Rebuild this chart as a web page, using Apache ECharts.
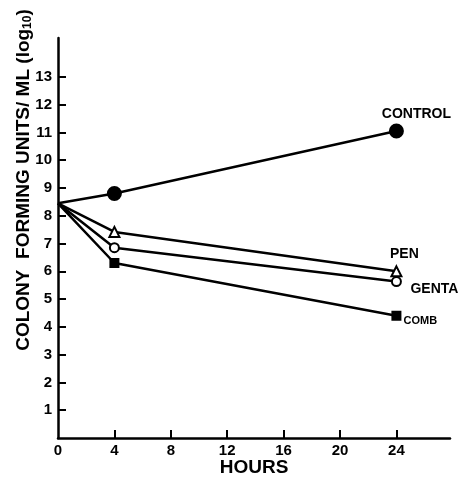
<!DOCTYPE html>
<html>
<head>
<meta charset="utf-8">
<script src="https://cdn.jsdelivr.net/npm/echarts@6/dist/echarts.min.js"></script>
<style>html,body{margin:0;padding:0;background:#fff;}#c{width:460px;height:477px;}</style>
</head>
<body>
<div id="c"></div>
<script>
// Data
var hours = [0, 4, 24];
var control = [8.45, 8.8, 11.05];
var pen = [8.45, 7.42, 6.0];
var genta = [8.45, 6.85, 5.63];
var comb = [8.45, 6.3, 4.4];
var seriesNames = ['CONTROL', 'PEN', 'GENTA', 'COMB'];
var yTicks = [1,2,3,4,5,6,7,8,9,10,11,12,13];
var xTicks = [4, 8, 12, 16, 20, 24];
var xLabels = [0, 4, 8, 12, 16, 20, 24];

var FONT = 'Liberation Sans';
var chart = echarts.init(document.getElementById('c'));

function mk(name, vals, symbol, size, filled, labelOpt) {
  var data = hours.map(function (h, i) {
    var d = { value: [h, vals[i]] };
    if (i === 0) d.symbol = 'none';
    if (i === hours.length - 1) {
      d.label = Object.assign({
        show: true, formatter: name, position: 'inside',
        color: '#000', fontFamily: FONT, fontWeight: 'bold', fontSize: 14
      }, labelOpt);
    }
    return d;
  });
  return {
    name: name, type: 'line', data: data, symbol: symbol, symbolSize: size,
    showAllSymbol: true,
    lineStyle: { color: '#000', width: 2.5 },
    itemStyle: { color: filled ? '#000' : '#fff', borderColor: '#000', borderWidth: 2 },
    label: { show: false },
    z: 3, animation: false
  };
}

chart.setOption({
  animation: false,
  backgroundColor: '#fff',
  grid: { left: 58, top: 38, right: 10, bottom: 39, containLabel: false, outerBoundsMode: 'none' },
  xAxis: {
    type: 'value', min: 0, max: 27.8,
    axisLine: { lineStyle: { color: '#000', width: 2.5 } },
    axisTick: { show: true, inside: true, length: 8, lineStyle: { color: '#000', width: 2 }, customValues: xTicks },
    axisLabel: { color: '#000', fontFamily: FONT, fontWeight: 'bold', fontSize: 15, margin: 5, customValues: xLabels },
    splitLine: { show: false },
    name: 'HOURS', nameLocation: 'middle', nameGap: 20, nameMoveOverlap: false,
    nameTextStyle: { color: '#000', fontFamily: FONT, fontWeight: 'bold', fontSize: 19 }
  },
  yAxis: {
    type: 'value', min: 0, max: 14.4,
    axisLine: { show: true, lineStyle: { color: '#000', width: 2.5 } },
    axisTick: { show: true, inside: true, length: 8, lineStyle: { color: '#000', width: 2 }, customValues: yTicks },
    axisLabel: { color: '#000', fontFamily: FONT, fontWeight: 'bold', fontSize: 15, margin: 6, customValues: yTicks },
    splitLine: { show: false }
  },
  graphic: [{
    type: 'text', x: 24, y: 180, rotation: Math.PI / 2,
    style: {
      text: '{a|COLONY  FORMING UNITS/ ML (log}{s|10}{a|)}',
      align: 'center', verticalAlign: 'middle',
      rich: {
        a: { fontFamily: FONT, fontWeight: 'bold', fontSize: 19, fill: '#000' },
        s: { fontFamily: FONT, fontWeight: 'bold', fontSize: 12, fill: '#000', verticalAlign: 'bottom', padding: [8, 0, 0, 0] }
      },
      fill: '#000'
    }
  }],
  series: [
    mk(seriesNames[0], control, 'circle', 13, true, { offset: [20, -17], fontSize: 14 }),
    mk(seriesNames[1], pen, 'triangle', 10, false, { offset: [8, -17], fontSize: 14 }),
    mk(seriesNames[2], genta, 'circle', 9, false, { offset: [38, 8], fontSize: 14 }),
    mk(seriesNames[3], comb, 'rect', 8, true, { offset: [24, 5], fontSize: 11 })
  ]
});
</script>
</body>
</html>
